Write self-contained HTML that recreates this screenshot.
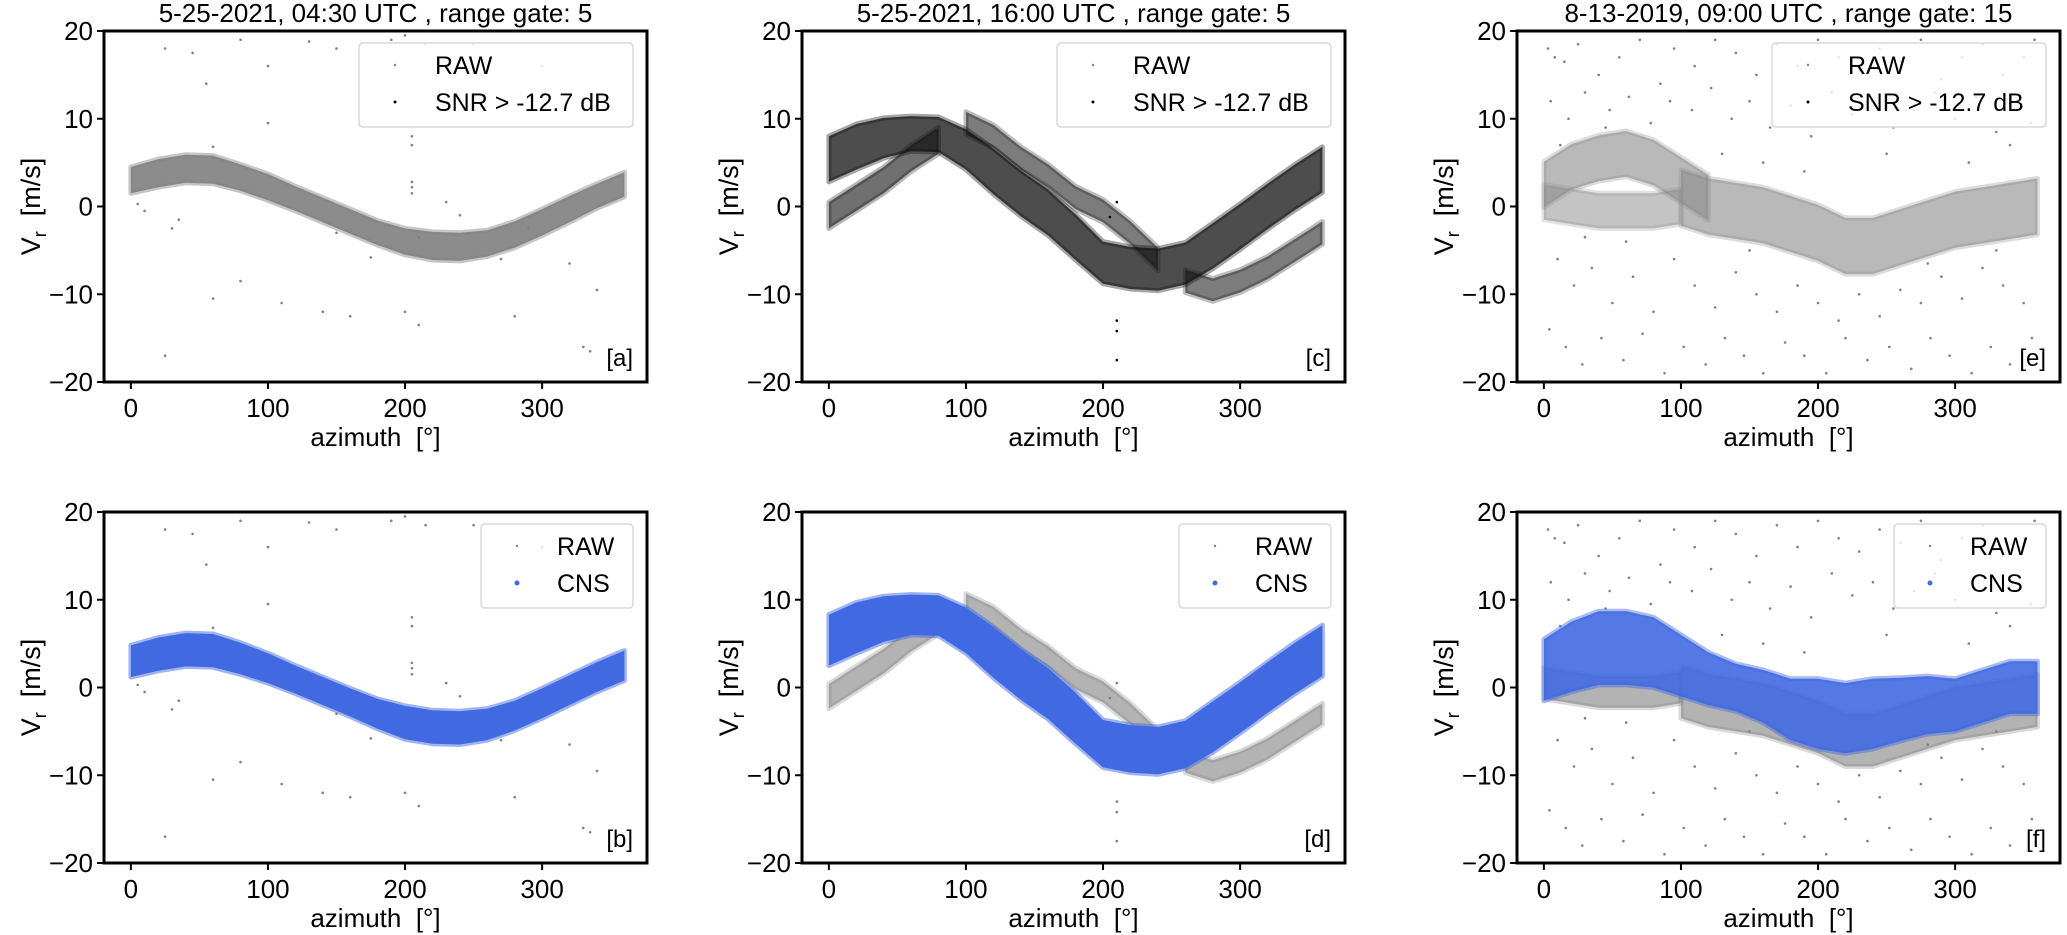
<!DOCTYPE html>
<html><head><meta charset="utf-8"><style>
html,body{margin:0;padding:0;background:#fff}
svg{display:block;font-family:"Liberation Sans","DejaVu Sans",sans-serif}
</style></head><body>
<svg id="fig" width="2067" height="935" viewBox="0 0 2067 935"></svg>
<script>
// ---- data (azimuth bins every 20 deg) ----
const azBins = [0,20,40,60,80,100,120,140,160,180,200,220,240,260,280,300,320,340,360];
const aCenter = [3,3.8,4.3,4.2,3.3,2.2,0.9,-0.4,-1.7,-3,-4,-4.5,-4.6,-4.2,-3.2,-1.8,-0.3,1.2,2.5];
const aHalf = [1.5,1.6,1.6,1.6,1.5,1.5,1.4,1.4,1.4,1.4,1.5,1.6,1.6,1.5,1.5,1.5,1.5,1.4,1.4];
const bHalf = [1.8,1.9,1.9,1.9,1.8,1.7,1.6,1.6,1.6,1.7,1.9,1.9,1.9,1.8,1.7,1.7,1.7,1.7,1.7];
const cCenter = [5.4,6.8,7.8,8.3,8.2,6.5,4,1.5,-0.7,-3.5,-6.4,-7,-7.2,-6.5,-4.5,-2.3,0,2.2,4.2];
const cHalf = [2.6,2.6,2.3,2,2,2.3,2.6,2.6,2.6,2.6,2.4,2.4,2.4,2.4,2.6,2.6,2.6,2.6,2.6];
const dHalf = [2.9,2.9,2.6,2.3,2.3,2.6,2.9,2.9,2.9,2.9,2.7,2.7,2.7,2.7,2.9,2.9,2.9,2.9,2.9];
const trackLowAz = [0,20,40,60,80];
const trackLowV = [-1,1,3,5.5,7.5];
const trackUpAz = [100,120,140,160,180,200,220,240];
const trackUpV = [9.5,8,5.5,3.5,1,-0.5,-3,-6];
const trackRightAz = [260,280,300,320,340,360];
const trackRightV = [-8.5,-9.5,-8.5,-7,-5,-3];
const eUpAz = [0,20,40,60,80,100,120];
const eUpV = [2.5,4.5,5.5,6,5,3,1];
const eLowAz = [0,20,40,60,80,100];
const eLowV = [0.5,0,-0.5,-0.5,-0.5,0];
const eMainAz = [100,120,140,160,180,200,220,240,260,280,300,320,340,360];
const eMainV = [1,0,-0.5,-1,-2,-3,-4.5,-4.5,-3.5,-2.5,-1.5,-1,-0.5,0];
const fCenter = [2,3.5,4.5,4.5,4,2.5,1,0,-1,-2.5,-3,-3.5,-3,-2.5,-2,-2,-1,0,0];
const fHalf = [3.5,4,4.2,4.2,4,3.5,3,2.7,3,3.5,4,4,4,3.6,3.3,3,3,3,3];
const outA = [[25,18],[45,17.5],[55,14],[80,19],[100,9.5],[130,18.8],[150,18],[190,19],[200,19.5],[215,18.5],[100,16],[35,-1.5],[30,-2.5],[80,-8.5],[110,-11],[150,-3],[160,-12.5],[200,-12],[210,-13.5],[205,8],[205,7],[205,2.8],[205,2.2],[205,1.5],[210,-3.5],[240,-1],[230,0.5],[270,-6],[280,-12.5],[290,-2.5],[330,-16],[335,-16.5],[320,-6.5],[340,-9.5],[250,18.5],[300,16],[25,-17],[140,-12],[60,6.8],[10,-0.5],[5,0.3],[60,-10.5],[175,-5.8]];
const outC = [[210,-13],[210,-14.2],[210,-17.5],[210,0.5],[205,-1.2]];
const outE = [[3,18],[8,17],[15,16.5],[25,18.5],[40,15],[55,17],[70,19],[85,14],[95,18],[110,16],[125,19],[140,17.5],[155,15],[170,18.5],[185,16],[200,19],[215,17],[230,15.5],[245,18],[260,16.5],[275,19],[290,14.5],[305,17],[320,18.5],[335,15],[350,17],[358,19],
[5,12],[18,10],[30,13],[48,11],[62,12.5],[78,9.5],[92,12],[108,11],[122,13.5],[137,10],[150,12],[165,9],[180,11.5],[195,8],[210,13],[225,10.5],[240,12],[255,9],[270,11],[285,13],[300,10],[315,12.5],[330,8.5],[345,11],[355,9.5],
[10,-6],[22,-9],[35,-7],[50,-11],[65,-8],[80,-12],[95,-6],[110,-9],[125,-11.5],[140,-7.5],[155,-10],[170,-12],[185,-9],[200,-11],[215,-13],[230,-10],[245,-12.5],[260,-9.5],[275,-11],[290,-8],[305,-10.5],[320,-7],[335,-9],[350,-11],
[4,-14],[16,-16],[28,-18],[42,-15],[58,-17.5],[72,-14.5],[88,-19],[102,-16],[118,-18],[132,-15],[146,-17],[160,-19],[176,-15.5],[190,-17],[206,-19],[220,-15],[236,-17.5],[252,-16],[268,-18.5],[282,-15],[296,-17],[312,-19],[326,-16],[340,-18],[356,-15],
[12,7],[45,9],[130,6],[160,5],[190,4],[250,6],[310,5],[340,7],[150,-5],[60,-4],[30,-3.5],[280,-6.5],[330,-5]];

const svg = document.getElementById('fig');
const NS = 'http://www.w3.org/2000/svg';
function mk(tag, attrs, parent){const e=document.createElementNS(NS,tag);for(const k in attrs)e.setAttribute(k,attrs[k]);(parent||svg).appendChild(e);return e;}

const W = 543, H = 351;
const XMIN = -19.6, XMAX = 376.5, YMIN = -20, YMAX = 20;

function makePanel(px, py, id){
  const g = mk('g', {});
  
  
  const sx = v => px + (v - XMIN) / (XMAX - XMIN) * W;
  const sy = v => py + (YMAX - v) / (YMAX - YMIN) * H;
  return {g, sx, sy, px, py};
}
function band(P, az, ctr, half, fill, op, name){
  let d = '';
  for(let i=0;i<az.length;i++) d += (i?'L':'M') + P.sx(az[i]).toFixed(1) + ',' + P.sy(ctr[i] + half[i]).toFixed(1);
  for(let i=az.length-1;i>=0;i--) d += 'L' + P.sx(az[i]).toFixed(1) + ',' + P.sy(ctr[i] - half[i]).toFixed(1);
  d += 'Z';
  const p = mk('path', {d, fill, 'fill-opacity':op, stroke:fill, 'stroke-opacity':op*0.5, 'stroke-width':5, 'stroke-linejoin':'round'}, P.g);
  
  
}
function track(P, az, vals, hw, fill, op, name){
  band(P, az, vals, az.map(()=>hw), fill, op, name);
}
function dots(P, pts, fill, r, name){
  const g = mk('g', {fill}, P.g);
  
  
  pts.forEach(p => {
    const c = mk('circle', {cx:P.sx(p[0]).toFixed(1), cy:P.sy(p[1]).toFixed(1), r}, g);
    
    
  });
}
function axes(P, tag, title, legendLines, blueLegend){
  const g = P.g;
  const fr = mk('rect', {x:P.px, y:P.py, width:W, height:H, fill:'none', stroke:'#000', 'stroke-width':3}, g);
  
  
  [-20,-10,0,10,20].forEach(v => {
    const y = P.sy(v);
    mk('line', {x1:P.px-7, x2:P.px, y1:y, y2:y, stroke:'#000', 'stroke-width':2}, g);
    const t = mk('text', {x:P.px-11, y:y+9, 'text-anchor':'end', 'font-size':26}, g);
    t.textContent = v < 0 ? '\u2212' + Math.abs(v) : String(v);
    
    
  });
  [0,100,200,300].forEach(v => {
    const x = P.sx(v);
    mk('line', {x1:x, x2:x, y1:P.py+H, y2:P.py+H+7, stroke:'#000', 'stroke-width':2}, g);
    const t = mk('text', {x:x, y:P.py+H+35, 'text-anchor':'middle', 'font-size':26}, g);
    t.textContent = String(v);
    
    
  });
  const xl = mk('text', {x:P.px+W/2, y:P.py+H+64, 'text-anchor':'middle', 'font-size':26}, g);
  xl.textContent = 'azimuth\u00a0\u00a0[\u00b0]';
  
  
  const yl = mk('text', {transform:`translate(${P.px-64},${P.py+H/2}) rotate(-90)`, 'text-anchor':'middle', 'font-size':27}, g);
  yl.innerHTML = 'V<tspan font-size="18" dy="6">r</tspan><tspan dy="-6">\u00a0\u00a0[m/s]</tspan>';
  
  
  const lb = mk('text', {x:P.px+W-14, y:P.py+H-16, 'text-anchor':'end', 'font-size':24}, g);
  lb.textContent = tag;
  
  
  if(title){
    const tt = mk('text', {x:P.px+W/2, y:P.py-9, 'text-anchor':'middle', 'font-size':26}, g);
    tt.textContent = title;
    
    
  }
  const lw = blueLegend ? 152 : 274;
  const lx = P.px + W - 14 - lw, ly = P.py + 12;
  const lg = mk('g', {}, g);
  
  
  mk('rect', {x:lx, y:ly, width:lw, height:84, rx:4, fill:'#fff', 'fill-opacity':0.8, stroke:'#d8d8d8', 'stroke-width':1.5}, lg);
  legendLines.forEach((L, i) => {
    const yy = ly + 22 + i*37;
    mk('circle', {cx:lx+36, cy:yy, r:L.r, fill:L.c}, lg);
    const t = mk('text', {x:lx+76, y:yy+9, 'font-size':25}, lg);
    t.textContent = L.t;
    
    
  });
}

const GRAY = '#808080', BLUE = '#4169e1';
// panel a
let P = makePanel(104, 31, 'a');
dots(P, outA, GRAY, 1.3, 'raw-outliers');
band(P, azBins, aCenter, aHalf, GRAY, 0.9, 'raw-band');
axes(P, '[a]', '5-25-2021, 04:30 UTC , range gate: 5', [{t:'RAW',c:GRAY,r:1.2},{t:'SNR > -12.7 dB',c:'#000',r:1.5}], false);
// panel b
P = makePanel(104, 512, 'b');
dots(P, outA, GRAY, 1.3, 'raw-outliers');
band(P, azBins, aCenter, bHalf, BLUE, 1, 'cns-band');
axes(P, '[b]', null, [{t:'RAW',c:GRAY,r:1.2},{t:'CNS',c:BLUE,r:2.5}], true);
// panel c
P = makePanel(802, 31, 'c');
dots(P, outC, '#000', 1.3, 'raw-outliers');
track(P, trackLowAz, trackLowV, 1.5, '#111', 0.6, 'snr-track-low');
track(P, trackUpAz, trackUpV, 1.3, '#111', 0.55, 'snr-track-up');
track(P, trackRightAz, trackRightV, 1.3, '#111', 0.55, 'snr-track-right');
band(P, azBins, cCenter, cHalf, '#111', 0.75, 'snr-band');
axes(P, '[c]', '5-25-2021, 16:00 UTC , range gate: 5', [{t:'RAW',c:GRAY,r:1.2},{t:'SNR > -12.7 dB',c:'#000',r:1.5}], false);
// panel d
P = makePanel(802, 512, 'd');
dots(P, outC, GRAY, 1.3, 'raw-outliers');
track(P, trackLowAz, trackLowV, 1.4, GRAY, 0.6, 'raw-track-low');
track(P, trackUpAz, trackUpV, 1.2, GRAY, 0.6, 'raw-track-up');
track(P, trackRightAz, trackRightV, 1.2, GRAY, 0.6, 'raw-track-right');
band(P, azBins, cCenter, dHalf, BLUE, 1, 'cns-band');
axes(P, '[d]', null, [{t:'RAW',c:GRAY,r:1.2},{t:'CNS',c:BLUE,r:2.5}], true);
// panel e
P = makePanel(1517, 31, 'e');
dots(P, outE, GRAY, 1.3, 'raw-outliers');
track(P, eUpAz, eUpV, 2.6, '#8a8a8a', 0.6, 'raw-band-upper');
track(P, eLowAz, eLowV, 2, '#8a8a8a', 0.5, 'raw-band-lower');
track(P, eMainAz, eMainV, 3.2, '#8a8a8a', 0.6, 'raw-band-main');
axes(P, '[e]', '8-13-2019, 09:00 UTC , range gate: 15', [{t:'RAW',c:GRAY,r:1.2},{t:'SNR > -12.7 dB',c:'#000',r:1.5}], false);
// panel f
P = makePanel(1517, 512, 'f');
dots(P, outE, GRAY, 1.3, 'raw-outliers');
track(P, eLowAz, eLowV, 1.8, GRAY, 0.6, 'raw-band-lower');
track(P, eMainAz, eMainV.map(v=>v-1.5), 3, GRAY, 0.6, 'raw-band-main');
band(P, azBins, fCenter, fHalf, BLUE, 0.9, 'cns-band');
axes(P, '[f]', null, [{t:'RAW',c:GRAY,r:1.2},{t:'CNS',c:BLUE,r:2.5}], true);
</script>
</body></html>
